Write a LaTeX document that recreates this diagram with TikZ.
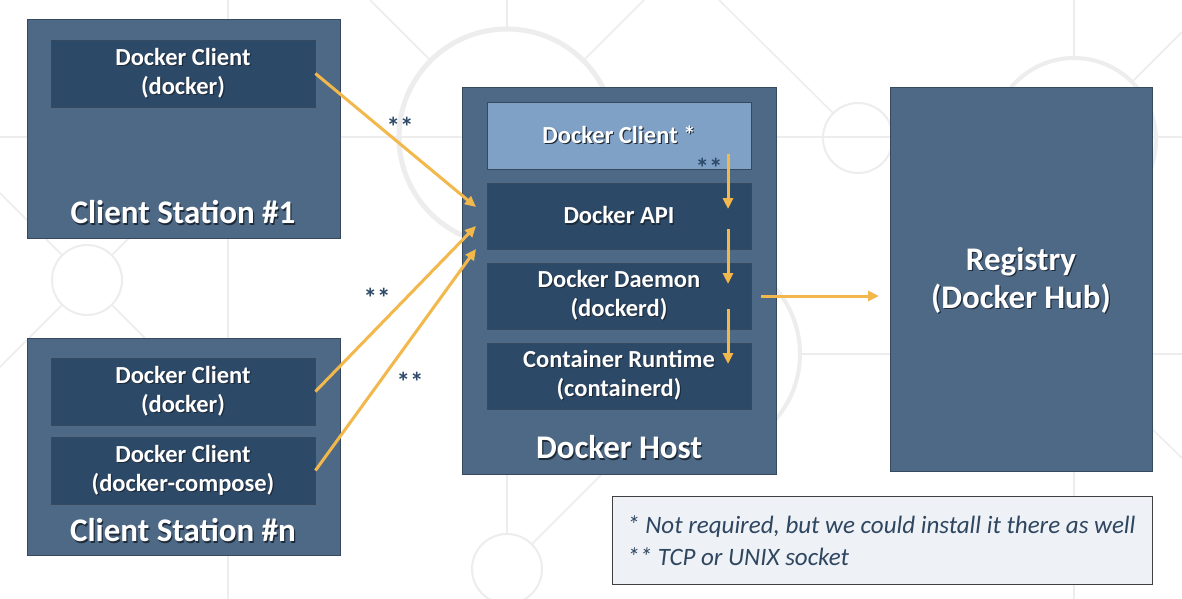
\documentclass[tikz,border=0pt]{standalone}
\usepackage{fontspec}
\setmainfont{Carlito}
\usetikzlibrary{arrows.meta,calc}
\definecolor{slate}{HTML}{4E6985}
\definecolor{navy}{HTML}{2D4968}
\definecolor{lightblue}{HTML}{7FA1C6}
\definecolor{boxline}{HTML}{36495F}
\definecolor{arrowy}{HTML}{F2B84B}
\definecolor{bgline}{HTML}{EDEDED}
\definecolor{notefill}{HTML}{EEF1F5}
\definecolor{notetext}{HTML}{2E4660}
\definecolor{shadowcol}{HTML}{1E2B3A}
\newcommand\shd[1]{\leavevmode\rlap{\raisebox{-1.2pt}{\hspace{1.2pt}\textcolor{shadowcol}{#1}}}#1}
\begin{document}
\begin{tikzpicture}[x=1pt,y=-1pt,
  outerbox/.style={draw=boxline, line width=1pt, fill=slate, inner sep=0pt},
  innerbox/.style={draw=boxline, line width=0.8pt, fill=navy, text=white,
    font=\fontsize{24.5}{29}\selectfont\bfseries, align=center,
    minimum width=264pt, minimum height=67pt, inner sep=0pt},
  lightbox/.style={innerbox, fill=lightblue},
  titletext/.style={text=white, font=\fontsize{33}{38}\selectfont\bfseries, align=center, inner sep=0pt},
  arr/.style={draw=arrowy, line width=3pt, -{Triangle[length=11pt,width=10pt]}},
  startext/.style={text=navy, font=\fontsize{27}{27}\selectfont\bfseries, inner sep=0pt},
  bg/.style={draw=bgline, line width=1.5pt},
  bgc/.style={draw=bgline, line width=2pt},
  notebox/.style={draw=black!75, line width=1pt, fill=notefill, inner sep=0pt}
]
\useasboundingbox (0,0) rectangle (1182,599);
\fill[white] (0,0) rectangle (1182,599);

% background pattern
\draw[bg] (228,0) -- (228,599);
\draw[bg] (0,137) -- (1182,137);
\draw[bg] (507,0) -- (507,29);
\draw[bg] (507,474) -- (507,534);
\draw[bg] (1074,0) -- (1074,58);
\draw[bg] (1074,471) -- (1074,599);
\draw[bg] (800,354) -- (1182,354);
\draw[bg] (370,0) -- (431,61);
\draw[bg] (583,61) -- (644,0);
\draw[bg] (719,0) -- (833,113);
\draw[bg] (1132,82) -- (1182,32);
\draw[bg] (532,544) -- (602,474);
\draw[bg] (62,255) -- (0,193);
\draw[bg] (112,255) -- (130,237);
\draw[bg] (62,305) -- (0,367);
\draw[bg] (112,305) -- (145,338);
\draw[bg] (1153,430) -- (1182,458);
\draw[draw=bgline, line width=5pt] (507,137) circle[radius=108];
\draw[draw=bgline, line width=4pt] (1074,140) circle[radius=82];
\draw[draw=bgline, line width=4pt] (700,354) circle[radius=100];
\draw[bgc] (87,280) circle[radius=35];
\draw[bgc] (858,138) circle[radius=35];
\draw[bgc] (507,569) circle[radius=35];

% client station 1
\node[outerbox, minimum width=313pt, minimum height=218pt] (cs1) at (183.5,129) {};
\node[innerbox] (dc1) at (183,73.5) {\shd{Docker Client}\\\shd{(docker)}};
\node[titletext] (cs1t) at (183,213) {\shd{Client Station \#1}};

% client station n
\node[outerbox, minimum width=313pt, minimum height=217pt] (csn) at (183.5,446.5) {};
\node[innerbox] (dcn1) at (183,391.5) {\shd{Docker Client}\\\shd{(docker)}};
\node[innerbox] (dcn2) at (183,470.5) {\shd{Docker Client}\\\shd{(docker-compose)}};
\node[titletext] (csnt) at (183,531) {\shd{Client Station \#n}};

% docker host
\node[outerbox, minimum width=314pt, minimum height=386pt] (host) at (619,281) {};
\node[lightbox] (hc) at (619,135.5) {\shd{Docker Client *}};
\node[innerbox, minimum height=66pt] (api) at (619,216) {\shd{Docker API}};
\node[innerbox, minimum height=66pt] (daemon) at (619,296) {\shd{Docker Daemon}\\\shd{(dockerd)}};
\node[innerbox, minimum height=66pt] (runtime) at (619,376) {\shd{Container Runtime}\\\shd{(containerd)}};
\node[titletext] (hostt) at (619,448) {\shd{Docker Host}};

% registry
\node[outerbox, minimum width=262pt, minimum height=383pt] (registry) at (1021,279.5) {};
\node[titletext] (regt) at (1021,281) {\shd{Registry}\\\shd{(Docker Hub)}};

% note
\node[notebox, minimum width=540pt, minimum height=88pt] (note) at (882,540) {};
\node[anchor=west, text=notetext, font=\fontsize{25}{32}\selectfont\itshape, align=left, inner sep=0pt]
  (notet) at (627,541) {* Not required, but we could install it there as well\\** TCP or UNIX socket};

% arrow end points
\coordinate (e1) at (476,207);
\coordinate (e2) at (476,226);
\coordinate (e3) at (476,249);
\coordinate (v1a) at (728,154);
\coordinate (v1b) at (728,209);
\coordinate (v2a) at (728,229);
\coordinate (v2b) at (728,284);
\coordinate (v3a) at (728,309);
\coordinate (v3b) at (728,364);
\coordinate (h1a) at ($(daemon.east)+(10,0)$);
\coordinate (h1b) at (879,296);

\draw[arr] (dc1.east) -- (e1);
\draw[arr] (dcn1.east) -- (e2);
\draw[arr] (dcn2.east) -- (e3);
\draw[arr] (v1a) -- (v1b);
\draw[arr] (v2a) -- (v2b);
\draw[arr] (v3a) -- (v3b);
\draw[arr] (h1a) -- (h1b);

% ** labels
\node[startext] (s1) at (400,127) {**};
\node[startext] (s2) at (377,298) {**};
\node[startext] (s3) at (410,382) {**};
\node[startext] (s4) at (709,168) {**};
\end{tikzpicture}
\end{document}
